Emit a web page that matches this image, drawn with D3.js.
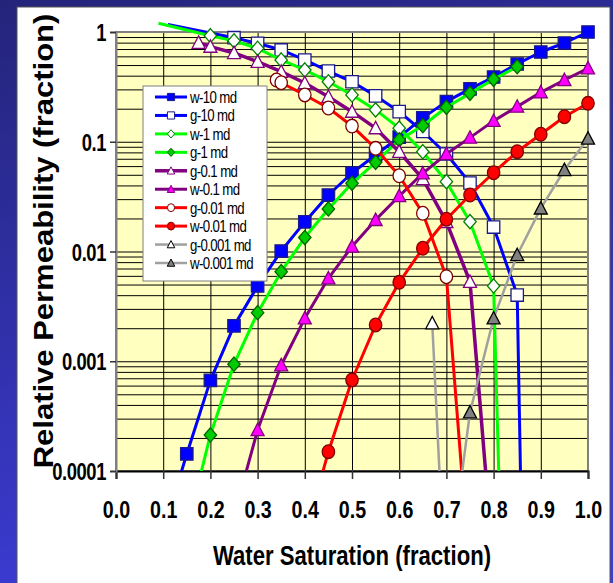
<!DOCTYPE html>
<html lang="en">
<head>
<meta charset="UTF-8">
<title>Relative Permeability</title>
<script src="https://cdn.jsdelivr.net/npm/d3@7"></script>
<style>
body{margin:0;background:#2b2b8c;}
svg{display:block;font-family:Arial,"Liberation Sans",sans-serif;}
</style>
</head>
<body>
<script>
// relative permeability curves, log scale
var width = 613, height = 583;
var padding = {top:32, left:116, right:25, bottom:112};
var plotW = width - padding.left - padding.right;
var plotH = height - padding.top - padding.bottom;

// ---- data ----
var xTicks = [0,0.1,0.2,0.3,0.4,0.5,0.6,0.7,0.8,0.9,1.0];
var xTickLabels = ["0.0","0.1","0.2","0.3","0.4","0.5","0.6","0.7","0.8","0.9","1.0"];
var yTicks = [0.0001,0.001,0.01,0.1,1];
var yTickLabels = ["0.0001","0.001","0.01","0.1","1"];

var seriesNames = ["w-10 md","g-10 md","w-1 md","g-1 md","g-0.1 md","w-0.1 md","g-0.01 md","w-0.01 md","g-0.001 md","w-0.001 md"];

var swW10 = [0.10,0.15,0.20,0.25,0.30,0.35,0.40,0.45,0.50,0.55,0.60,0.65,0.70,0.75,0.80,0.85,0.90,0.95,1.00];
var krW10 = [2.8e-5,1.43e-4,6.7e-4,0.0021,0.00485,0.0101,0.0186,0.0327,0.0519,0.0757,0.110,0.165,0.232,0.303,0.389,0.511,0.657,0.794,1.0];

var swG10 = [0.11,0.25,0.30,0.35,0.40,0.45,0.50,0.55,0.60,0.65,0.70,0.75,0.80,0.85,0.90];
var krG10 = [1.17,0.887,0.789,0.686,0.556,0.441,0.352,0.262,0.188,0.124,0.0773,0.0421,0.0167,0.00401,1e-14];

var swW1 = [0.09,0.20,0.25,0.30,0.35,0.40,0.45,0.50,0.55,0.60,0.65,0.70,0.75,0.80,0.85];
var krW1 = [1.2,0.925,0.83,0.71,0.556,0.451,0.352,0.267,0.195,0.133,0.0811,0.0433,0.0187,0.00485,8e-11];

var swG1 = [0.15,0.20,0.25,0.30,0.35,0.40,0.45,0.50,0.55,0.60,0.65,0.70,0.75,0.80,0.85];
var krG1 = [2.9e-5,2.13e-4,9.4e-4,0.00277,0.00655,0.0134,0.0244,0.0418,0.065,0.104,0.14,0.206,0.276,0.371,0.483];

var swG01 = [0.175,0.20,0.25,0.30,0.35,0.40,0.45,0.50,0.55,0.60,0.65,0.70,0.75,0.80];
var krG01 = [0.799,0.735,0.644,0.536,0.435,0.343,0.257,0.188,0.133,0.0811,0.0458,0.0186,0.0053,1.3e-5];

var swW01 = [0.25,0.30,0.35,0.40,0.45,0.50,0.55,0.60,0.65,0.70,0.75,0.80,0.85,0.90,0.95,1.00];
var krW01 = [3.9e-5,2.36e-4,9.2e-4,0.00246,0.0057,0.0111,0.0194,0.032,0.0516,0.0773,0.109,0.155,0.209,0.282,0.365,0.467];

var swG001 = [0.34,0.35,0.40,0.45,0.50,0.55,0.60,0.65,0.70,0.75];
var krG001 = [0.365,0.345,0.267,0.203,0.139,0.0871,0.049,0.0223,0.00589,1.07e-5];

var swW001 = [0.40,0.45,0.50,0.55,0.60,0.65,0.70,0.75,0.80,0.85,0.90,0.95,1.00];
var krW001 = [2.5e-5,1.5e-4,6.75e-4,0.00214,0.00524,0.0107,0.0197,0.0327,0.0522,0.0812,0.117,0.169,0.224];

var swG0001 = [0.67,0.70];
var krG0001 = [0.00222,5e-6];

var swW0001 = [0.70,0.75,0.80,0.85,0.90,0.95,1.00];
var krW0001 = [7.9e-6,3.43e-4,0.00246,0.00929,0.0247,0.0553,0.107];

// ---- styles per series ----
var series = [
	{x:swW10,  y:krW10,  line:"#0000ff", w:3,   mark:"square",   fill:"#0000ff", stroke:"#1a1a8c"},
	{x:swG10,  y:krG10,  line:"#0000ff", w:3,   mark:"square",   fill:"#ffffff", stroke:"#1a1a8c"},
	{x:swW1,   y:krW1,   line:"#00ff00", w:3,   mark:"diamond",  fill:"#ffffff", stroke:"#008000"},
	{x:swG1,   y:krG1,   line:"#00ff00", w:3,   mark:"diamond",  fill:"#00cc00", stroke:"#006400"},
	{x:swG01,  y:krG01,  line:"#800080", w:3.5, mark:"triangle", fill:"#ffffff", stroke:"#800080"},
	{x:swW01,  y:krW01,  line:"#800080", w:3,   mark:"triangle", fill:"#ff00ff", stroke:"#800080"},
	{x:swG001, y:krG001, line:"#ff0000", w:3,   mark:"circle",   fill:"#ffffff", stroke:"#800000"},
	{x:swW001, y:krW001, line:"#ff0000", w:3,   mark:"circle",   fill:"#ff0000", stroke:"#800000"},
	{x:swG0001,y:krG0001,line:"#a0a0a0", w:2.5, mark:"triangle", fill:"#ffffff", stroke:"#000000"},
	{x:swW0001,y:krW0001,line:"#a0a0a0", w:2.5, mark:"triangle", fill:"#808080", stroke:"#000000"}
];
series.forEach(function(s,i){
	s.name = seriesNames[i];
	s.pts = s.x.map(function(v,j){return [v, s.y[j]];});
});

var svg = d3.select("body").append("svg").attr("width",width).attr("height",height);

// background
var defs = svg.append("defs");
var grad = defs.append("linearGradient").attr("id","bg").attr("x1","0").attr("y1","0").attr("x2","0.3").attr("y2","1");
grad.append("stop").attr("offset","0%").attr("stop-color","#24247a");
grad.append("stop").attr("offset","100%").attr("stop-color","#3c3cd6");
svg.append("rect").attr("width",width).attr("height",height).attr("fill","url(#bg)");
svg.append("rect").attr("x",17).attr("y",7).attr("width",593).attr("height",600)
	.attr("fill","#ffffff").attr("stroke","#555").attr("stroke-width",1);

var xScale = d3.scaleLinear().domain([0,1]).range([padding.left, padding.left+plotW]);
var yScale = d3.scaleLog().domain([0.0001,1]).range([padding.top+plotH, padding.top]);

// plot area
svg.append("rect").attr("x",padding.left).attr("y",padding.top).attr("width",plotW).attr("height",plotH)
	.attr("fill","#ffffc0");

// grid lines
var minor = [];
[0.0001,0.001,0.01,0.1].forEach(function(d){
	for(var k=1;k<10;k++) minor.push(d*k);
});
minor.push(1);
var gridY = svg.append("g").attr("transform","translate("+padding.left+",0)")
	.call(d3.axisLeft(yScale).tickValues(minor).tickSize(-plotW).tickFormat(""));
gridY.select(".domain").remove();
gridY.selectAll("line").attr("stroke","#000").attr("stroke-width",1);

var gridX = svg.append("g").attr("transform","translate(0,"+padding.top+")")
	.call(d3.axisTop(xScale).tickValues(xTicks).tickSize(-plotH).tickFormat(""));
gridX.select(".domain").remove();
gridX.selectAll("line").attr("stroke","#000").attr("stroke-width",1);

// plot border
svg.append("rect").attr("x",padding.left).attr("y",padding.top).attr("width",plotW).attr("height",plotH)
	.attr("fill","none").attr("stroke","#808080").attr("stroke-width",2);

// axes
var xAxis = svg.append("g").attr("transform","translate(0,"+(padding.top+plotH)+")")
	.call(d3.axisBottom(xScale).tickValues(xTicks).tickSize(8)
		.tickFormat(function(d,i){return xTickLabels[i];}));
xAxis.select(".domain").attr("stroke","#000").attr("stroke-width",2);
xAxis.selectAll("line").attr("stroke","#333").attr("stroke-width",1.5);
xAxis.selectAll("text").attr("y",0).attr("dy",0)
	.attr("transform","translate(0,47) scale(0.82,1)")
	.attr("font-size","24px").attr("font-weight","bold").attr("fill","#000")
	.attr("font-family","Arial, 'Liberation Sans', sans-serif");

var yAxis = svg.append("g").attr("transform","translate("+padding.left+",0)")
	.call(d3.axisLeft(yScale).tickValues(yTicks).tickSize(6)
		.tickFormat(function(d,i){return yTickLabels[i];}));
yAxis.select(".domain").attr("stroke","#808080").attr("stroke-width",2);
yAxis.selectAll("line").attr("stroke","#333").attr("stroke-width",1.5);
yAxis.selectAll("text").attr("x",0).attr("dy",0)
	.attr("transform","translate(-10,8.5) scale(0.8,1)")
	.attr("font-size","23px").attr("font-weight","bold").attr("fill","#000")
	.attr("letter-spacing","-0.5px")
	.attr("font-family","Arial, 'Liberation Sans', sans-serif");

// titles
svg.append("text").attr("transform","translate(352,565) scale(0.79,1)")
	.attr("text-anchor","middle").attr("font-size","28px").attr("font-weight","bold")
	.text("Water Saturation (fraction)");
svg.append("text").attr("transform","translate(53,241) rotate(-90) scale(1,0.88)")
	.attr("text-anchor","middle").attr("font-size","31px").attr("font-weight","bold")
	.text("Relative Permeability (fraction)");

// markers
function markerPath(type, r){
	if(type=="square") return "M"+(-r)+","+(-r)+"H"+r+"V"+r+"H"+(-r)+"Z";
	if(type=="diamond") return "M0,"+(-r*1.15)+"L"+r+",0L0,"+(r*1.15)+"L"+(-r)+",0Z";
	if(type=="triangle") return "M0,"+(-r*1.1)+"L"+(r*1.05)+","+(r*0.9)+"L"+(-r*1.05)+","+(r*0.9)+"Z";
	// circle (slightly tall ellipse)
	return "M"+(-r)+",0A"+r+","+(r*1.1)+" 0 1,0 "+r+",0A"+r+","+(r*1.1)+" 0 1,0 "+(-r)+",0Z";
}

defs.append("clipPath").attr("id","clip").append("rect")
	.attr("x",0).attr("y",0).attr("width",width).attr("height",padding.top+plotH);

var line = d3.line().x(function(d){return xScale(d[0]);}).y(function(d){return yScale(d[1]);});

series.forEach(function(s){
	var g = svg.append("g");
	g.append("path").attr("d",line(s.pts)).attr("fill","none")
		.attr("stroke",s.line).attr("stroke-width",s.w).attr("stroke-linejoin","round")
		.attr("clip-path","url(#clip)");
	g.selectAll("path.m").data(s.pts.filter(function(d){return d[1]>=0.0001 && d[1]<=1.0001;}))
		.enter().append("path").attr("class","m")
		.attr("d",markerPath(s.mark,6.2))
		.attr("transform",function(d){return "translate("+xScale(d[0])+","+yScale(d[1])+")";})
		.attr("fill",s.fill).attr("stroke",s.stroke).attr("stroke-width",1.3);
});

// legend
var lg = svg.append("g");
lg.append("rect").attr("x",143).attr("y",86).attr("width",124).attr("height",195)
	.attr("fill","#fff").attr("stroke","#808080").attr("stroke-width",1);
var rowY = d3.scaleLinear().domain([0,9]).range([97,263]);
series.forEach(function(s,i){
	var y = rowY(i);
	lg.append("line").attr("x1",155).attr("x2",187).attr("y1",y).attr("y2",y)
		.attr("stroke",s.line).attr("stroke-width",s.w);
	lg.append("path").attr("d",markerPath(s.mark,3.6))
		.attr("transform","translate(171,"+y+")")
		.attr("fill",s.fill).attr("stroke",s.stroke).attr("stroke-width",1);
	lg.append("text").attr("transform","translate(190,"+(y+6)+") scale(0.78,1)")
		.attr("font-size","17px").attr("fill","#000").attr("letter-spacing","-0.8px")
		.text(s.name);
});
</script>
</body>
</html>
